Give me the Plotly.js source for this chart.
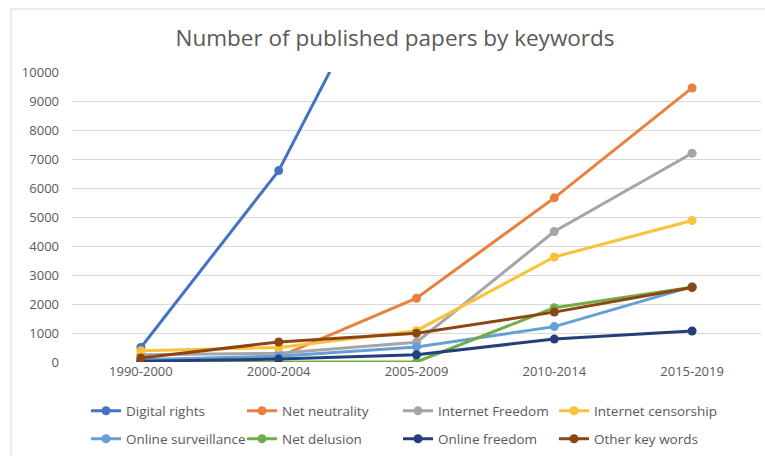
<!DOCTYPE html>
<html>
<head>
<meta charset="utf-8">
<script src="https://cdn.plot.ly/plotly-3.0.1.min.js"></script>
<style>
  html, body { margin: 0; padding: 0; background: #fff; }
  #chart { width: 765px; height: 456px; }
</style>
</head>
<body>
<div id="chart"></div>
<script>
const periods = ["1990-2000", "2000-2004", "2005-2009", "2010-2014", "2015-2019"];

const digitalRights      = [500, 6600, 15800, 27000, 37000];
const netNeutrality      = [50, 180, 2200, 5660, 9450];
const internetFreedom    = [250, 300, 680, 4500, 7200];
const internetCensorship = [390, 500, 1080, 3620, 4880];
const onlineSurveillance = [80, 200, 520, 1220, 2600];
const netDelusion        = [0, 0, 0, 1870, 2580];
const onlineFreedom      = [30, 100, 250, 790, 1070];
const otherKeyWords      = [140, 690, 990, 1720, 2570];

const seriesNames = ["Digital rights", "Net neutrality", "Internet Freedom", "Internet censorship",
                     "Online surveillance", "Net delusion", "Online freedom", "Other key words"];
const seriesValues = [digitalRights, netNeutrality, internetFreedom, internetCensorship,
                      onlineSurveillance, netDelusion, onlineFreedom, otherKeyWords];
const seriesColors = ["#4472C4", "#E8803F", "#A5A5A5", "#F9C23C",
                      "#659FD8", "#70AD47", "#23407A", "#8E4514"];

const legendIds = ["legend", "legend2", "legend3", "legend4", "legend5", "legend6", "legend7", "legend8"];

const traces = seriesNames.map((n, i) => ({
  type: "scatter",
  mode: "lines+markers",
  name: n,
  legend: legendIds[i],
  x: periods,
  y: seriesValues[i],
  line: { color: seriesColors[i], width: 3 },
  marker: { color: seriesColors[i], size: 9 },
  cliponaxis: true
}));

const L = 72, R = 4, T = 72, B = 94;
const pw = 765 - L - R, ph = 456 - T - B;
const px = v => (v - L) / pw;
const py = v => (456 - B - v) / ph;

const colX = [86, 242, 398, 554];
const rowY = [411, 439];

const layout = {
  width: 765, height: 456,
  margin: { l: L, r: R, t: T, b: B },
  paper_bgcolor: "#ffffff",
  plot_bgcolor: "#ffffff",
  font: { family: "Open Sans, Liberation Sans, sans-serif", color: "#595959", size: 13 },
  title: {
    text: "Number of published papers by keywords",
    font: { family: "Open Sans, sans-serif", size: 22.5, color: "#595959" },
    xref: "container", x: 395 / 765, xanchor: "center",
    y: 1 - 38 / 456, yanchor: "middle"
  },
  xaxis: {
    type: "category",
    range: [-0.5, 4.5],
    showgrid: false,
    zeroline: false,
    showline: false,
    ticks: "",
    tickfont: { size: 13, color: "#595959" },
    fixedrange: true
  },
  yaxis: {
    range: [0, 10000],
    tickvals: [0, 1000, 2000, 3000, 4000, 5000, 6000, 7000, 8000, 9000, 10000],
    ticktext: ["0", "1000", "2000", "3000", "4000", "5000", "6000", "7000", "8000", "9000", "10000"],
    showgrid: true,
    gridcolor: "#D9D9D9",
    gridwidth: 1,
    zeroline: false,
    showline: false,
    ticks: "",
    ticklabelstandoff: 12,
    tickfont: { size: 13, color: "#595959" },
    fixedrange: true
  },
  showlegend: true,
  shapes: [{
    type: "rect", xref: "paper", yref: "paper",
    x0: px(11), x1: px(800), y0: py(500), y1: py(9),
    line: { color: "#D9D9D9", width: 1 },
    fillcolor: "rgba(0,0,0,0)",
    layer: "below"
  }]
};

legendIds.forEach((id, i) => {
  layout[id] = {
    orientation: "h",
    xref: "container", yref: "container",
    x: colX[i % 4] / 765, xanchor: "left",
    y: 1 - rowY[Math.floor(i / 4)] / 456, yanchor: "middle",
    itemwidth: 30,
    font: { size: 13.5, color: "#595959" },
    bgcolor: "rgba(0,0,0,0)"
  };
});

Plotly.newPlot("chart", traces, layout, { displayModeBar: false, staticPlot: true });
</script>
</body>
</html>
